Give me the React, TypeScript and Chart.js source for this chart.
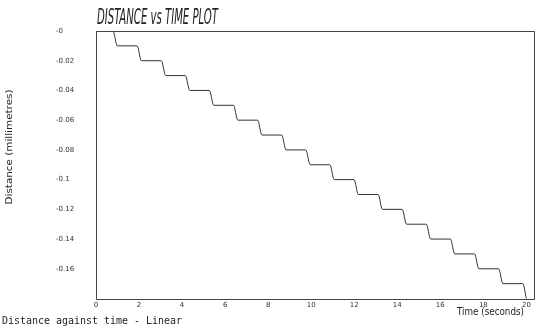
import React, { useEffect, useRef } from "react";
import { Chart, registerables } from "chart.js";

Chart.register(...registerables);

// Step-wise distance readings (time in seconds, distance in millimetres)
const times = [
  0, 0.79, 0.99, 1.91, 2.11, 3.03, 3.24, 4.15, 4.36, 5.27, 5.47, 6.39, 6.59,
  7.51, 7.71, 8.63, 8.83, 9.75, 9.95, 10.87, 11.07, 11.99, 12.19, 13.11, 13.31,
  14.23, 14.43, 15.35, 15.55, 16.47, 16.67, 17.59, 17.79, 18.71, 18.91, 19.83, 20.0,
];
const distances = [
  0, 0, -0.01, -0.01, -0.02, -0.02, -0.03, -0.03, -0.04, -0.04, -0.05, -0.05,
  -0.06, -0.06, -0.07, -0.07, -0.08, -0.08, -0.09, -0.09, -0.1, -0.1, -0.11,
  -0.11, -0.12, -0.12, -0.13, -0.13, -0.14, -0.14, -0.15, -0.15, -0.16, -0.16,
  -0.17, -0.17, -0.18,
];

const xTickValues = [0, 2, 4, 6, 8, 10, 12, 14, 16, 18, 20];
const yTickValues = [0, -0.02, -0.04, -0.06, -0.08, -0.1, -0.12, -0.14, -0.16];
const yTickLabels = ["-0", "-0.02", "-0.04", "-0.06", "-0.08", "-0.1", "-0.12", "-0.14", "-0.16"];

const titleText = "DISTANCE vs TIME PLOT";
const xTitle = "Time (seconds)";
const yTitle = "Distance (millimetres)";
const captionText = "Distance against time - Linear";

function fitText(ctx: CanvasRenderingContext2D, text: string, x: number, y: number, w: number, font: string, rotate = false) {
  ctx.save();
  ctx.font = font;
  const m = ctx.measureText(text).width;
  const s = w / m;
  ctx.translate(x, y);
  if (rotate) ctx.rotate(-Math.PI / 2);
  ctx.scale(s, 1);
  ctx.textAlign = "left";
  ctx.textBaseline = "alphabetic";
  ctx.fillText(text, rotate ? -m / 2 : 0, 0);
  ctx.restore();
}

const decorPlugin = {
  id: "decor",
  afterDraw(chart: any) {
    const { ctx, chartArea: a } = chart;
    ctx.save();
    ctx.strokeStyle = "#444";
    ctx.lineWidth = 1;
    const l = Math.round(a.left) + 0.5;
    const t = Math.round(a.top) + 0.5;
    const r = Math.round(a.right) - 0.5;
    const b = Math.round(a.bottom) - 0.5;
    ctx.beginPath();
    ctx.moveTo(l, t);
    ctx.lineTo(r, t);
    ctx.lineTo(r, b);
    ctx.lineTo(l, b);
    ctx.closePath();
    ctx.stroke();
    ctx.fillStyle = "#222";
    fitText(ctx, titleText, a.left + 1, 24, 121, 'italic 22px "Liberation Sans Narrow", "DejaVu Sans Condensed", sans-serif');
    fitText(ctx, xTitle, 457, 315, 67, '10px "DejaVu Sans Condensed", "DejaVu Sans", sans-serif');
    fitText(ctx, yTitle, 12, 147, 115, '9px "DejaVu Sans Condensed", "DejaVu Sans", sans-serif', true);
    fitText(ctx, captionText, 2, 324, 180, '10px "DejaVu Sans Mono", monospace');
    ctx.restore();
  },
};

export default function App() {
  const ref = useRef<HTMLCanvasElement | null>(null);
  useEffect(() => {
    if (!ref.current) return;
    const points = times.map((t, i) => ({ x: t, y: distances[i] }));
    const chart = new Chart(ref.current, {
      type: "line",
      data: {
        datasets: [
          {
            data: points,
            borderColor: "#333",
            borderWidth: 1,
            pointRadius: 0,
            fill: false,
            cubicInterpolationMode: "monotone",
          },
        ],
      },
      options: {
        animation: false,
        responsive: false,
        events: [],
        layout: { padding: { left: 56, top: 31, right: 9, bottom: 0 } },
        plugins: { legend: { display: false }, tooltip: { enabled: false }, title: { display: false } },
        scales: {
          x: {
            type: "linear",
            min: 0,
            max: 20.4,
            grid: { display: false, drawTicks: false, tickLength: 0 },
            border: { display: false },
            afterFit: (s: any) => {
              s.height = 27;
            },
            afterBuildTicks: (s: any) => {
              s.ticks = xTickValues.map((v) => ({ value: v }));
            },
            ticks: {
              padding: 1,
              maxRotation: 0,
              autoSkip: false,
              color: "#333",
              font: { family: "DejaVu Sans", size: 7 },
              callback: (v: any) => String(v),
            },
          },
          y: {
            type: "linear",
            min: -0.181,
            max: 0,
            grid: { display: false, drawTicks: false, tickLength: 0 },
            border: { display: false },
            afterFit: (s: any) => {
              s.width = 40;
            },
            afterBuildTicks: (s: any) => {
              s.ticks = yTickValues.map((v) => ({ value: v }));
            },
            ticks: {
              crossAlign: "far",
              padding: 0,
              autoSkip: false,
              color: "#333",
              font: { family: "DejaVu Sans", size: 7 },
              callback: (v: any) => {
                const i = yTickValues.findIndex((t) => Math.abs(t - v) < 1e-9);
                return i >= 0 ? yTickLabels[i] : "";
              },
            },
          },
        },
      },
      plugins: [decorPlugin],
    } as any);
    return () => chart.destroy();
  }, []);
  return (
    <div style={{ position: "absolute", left: 0, top: 0, width: 544, height: 327, background: "#fff" }}>
      <canvas ref={ref} width={544} height={327} style={{ display: "block" }} />
    </div>
  );
}
